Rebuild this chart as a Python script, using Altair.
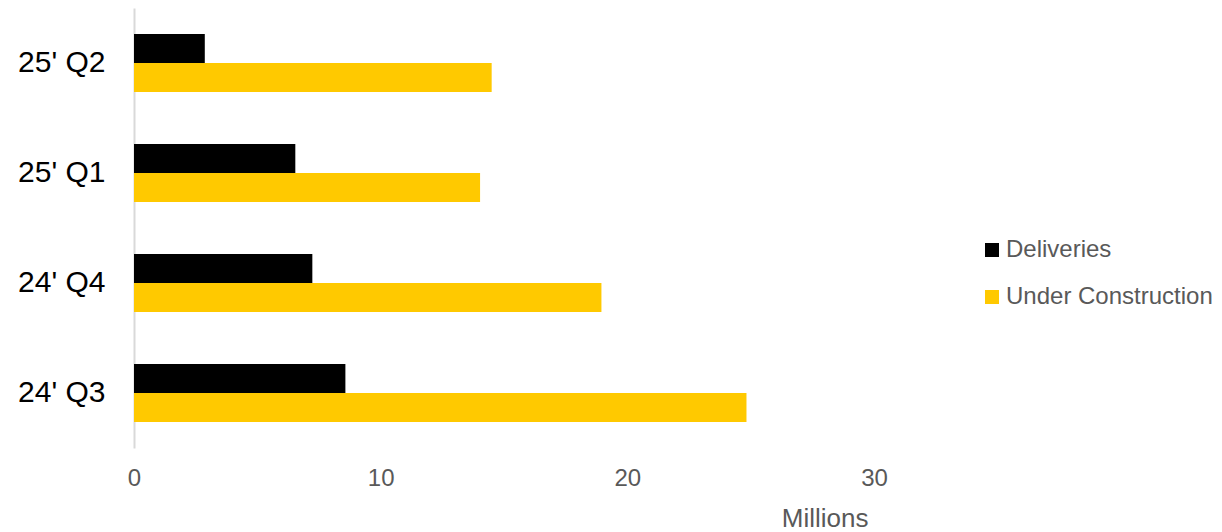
import altair as alt
import pandas as pd

quarters = ["25' Q2", "25' Q1", "24' Q4", "24' Q3"]
deliveries = [2.87, 6.54, 7.23, 8.57]
under_construction = [14.5, 14.03, 18.95, 24.83]
series = ["Deliveries", "Under Construction"]
colors = ["#000000", "#FFC900"]
x_ticks = [0, 10, 20, 30]

rows = []
for q, d, u in zip(quarters, deliveries, under_construction):
    rows.append({"quarter": q, "series": series[0], "value": d})
    rows.append({"quarter": q, "series": series[1], "value": u})
df = pd.DataFrame(rows)

FONT = "Liberation Sans"

chart = alt.Chart(df).mark_bar(size=29).encode(
    y=alt.Y("quarter:N", sort=quarters,
            scale=alt.Scale(paddingInner=0.47, paddingOuter=0.235),
            axis=alt.Axis(title=None, labelFontSize=30, labelColor="#000000",
                          labelFont=FONT, ticks=False, tickSize=0, labelPadding=29,
                          domainColor="#D9D9D9", domainWidth=2, grid=False)),
    yOffset=alt.YOffset("series:N", sort=series, scale=alt.Scale(paddingInner=0, paddingOuter=0)),
    x=alt.X("value:Q", scale=alt.Scale(domain=[0, 30], nice=False),
            axis=alt.Axis(title="Millions", values=x_ticks, labelFontSize=24,
                          labelColor="#595959", labelFont=FONT, ticks=False, domain=False,
                          grid=False, labelPadding=18, labelFlush=False,
                          titleFont=FONT, titleFontSize=26,
                          titleFontWeight="normal", titleColor="#595959",
                          titleAlign="right", titleX=734, titleY=78,
                          titleBaseline="alphabetic")),
    color=alt.Color("series:N", sort=series,
                    scale=alt.Scale(domain=series, range=colors),
                    legend=alt.Legend(title=None, orient="none", legendX=846, legendY=230,
                                      symbolType="square", symbolSize=196,
                                      symbolStrokeWidth=0, labelFontSize=24,
                                      labelColor="#595959", labelFont=FONT,
                                      labelOffset=2, rowPadding=23, padding=0,
                                      labelLimit=400)),
).properties(
    width=740, height=440,
    autosize=alt.AutoSizeParams(type="none"),
    padding={"left": 126, "top": 0, "right": 340, "bottom": 84},
).configure_view(stroke=None)

chart.save("out.html", embed_options={"renderer": "svg", "actions": False})
